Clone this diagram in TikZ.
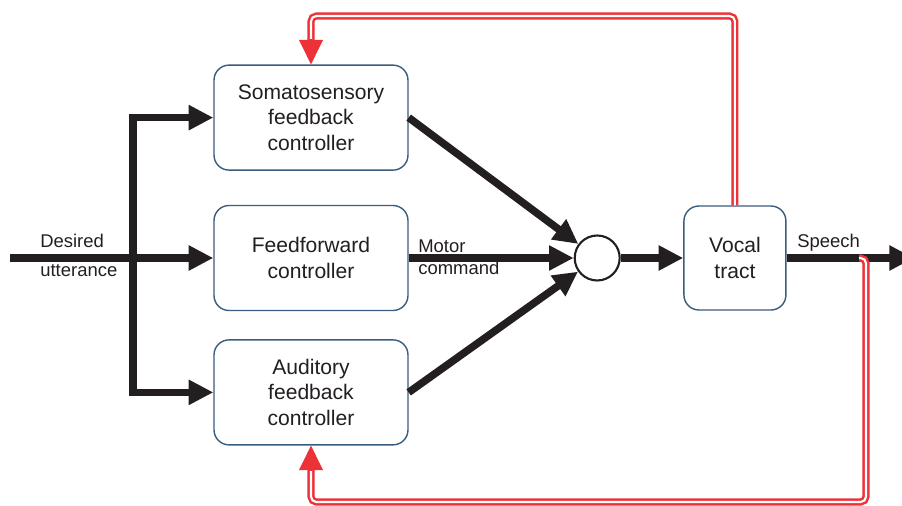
\documentclass[tikz,border=0pt]{standalone}
\usepackage{fontspec}
\setmainfont{Liberation Sans}
\usepackage{xcolor}
\usetikzlibrary{arrows.meta,positioning,shapes}

\definecolor{ink}{RGB}{35,31,32}
\definecolor{boxline}{RGB}{58,92,126}
\definecolor{fbred}{RGB}{237,50,55}

\begin{document}
\begin{tikzpicture}[x=0.02cm, y=-0.02cm, auto]
    \tikzstyle{block} = [rectangle, draw=boxline, line width=0.8pt, fill=white, text=ink, align=center, rounded corners=0.3cm, minimum width=3.88cm, minimum height=2.1cm, font=\fontsize{12}{14.7}\selectfont]
    \tikzstyle{sumnode} = [circle, draw=ink, line width=1.2pt, fill=white, minimum size=0.9cm, inner sep=0pt]
    \tikzstyle{flow} = [ink, line width=4.3pt, -{Triangle[length=14pt, width=13.5pt]}]
    \tikzstyle{fbline} = [draw=fbred, double=white, line width=1.4pt, double distance=1.2pt, rounded corners=3pt]
    \tikzstyle{fbtip} = [fbred, line width=1pt, -{Triangle[length=14pt, width=13.5pt]}]
    \tikzstyle{lbl} = [text=ink, inner sep=0pt, anchor=base west, font=\fontsize{10.5}{12}\selectfont]

    \useasboundingbox (0,0) rectangle (902,506);

    % controllers
    \node [block] (ff) at (311,258) {Feedforward\\controller};
    \node [block, above=0.68cm of ff] (soma) {Somatosensory\\feedback\\controller};
    \node [block, below=0.56cm of ff] (aud) {Auditory\\feedback\\controller};

    % summing point and plant
    \node [sumnode, right=3.3cm of ff] (sum) {};
    \node [block, minimum width=2.04cm, minimum height=2.08cm, right=1.25cm of sum] (vt) {Vocal\\tract};

    \coordinate (in) at (10,258);
    \coordinate (split) at (133,258);
    \coordinate (out) at (914,258);

    % forward paths
    \draw [flow] (in) -- (ff.west);
    \draw [flow] (split) |- (soma.west);
    \draw [flow] (split) |- (aud.west);
    \draw [flow] (soma.east) -- (sum);
    \draw [flow] (ff.east) -- (sum);
    \draw [flow] (aud.east) -- (sum);
    \draw [flow] (sum) -- (vt.west);
    \draw [flow] (vt.east) -- (out);

    \node [lbl] (desired) at (40,248) {Desired};
    \node [lbl] (utter) at (40,277) {utterance};
    \node [lbl] (motor) at (418,253) {Motor};
    \node [lbl] (command) at (418,275) {command};
    \node [lbl] (speech) at (797,248) {Speech};

    % feedback loops
    \coordinate (topfb) at (311,16);
    \coordinate (tap) at (859,258);
    \draw [fbline] (vt.north) |- (topfb) -- ([yshift=0.47cm]soma.north);
    \draw [fbtip] ([yshift=0.5cm]soma.north) -- (soma.north);
    \draw [fbline] (tap) -| (866,502) -| ([yshift=-0.47cm]aud.south);
    \draw [fbtip] ([yshift=-0.5cm]aud.south) -- (aud.south);

\end{tikzpicture}
\end{document}
